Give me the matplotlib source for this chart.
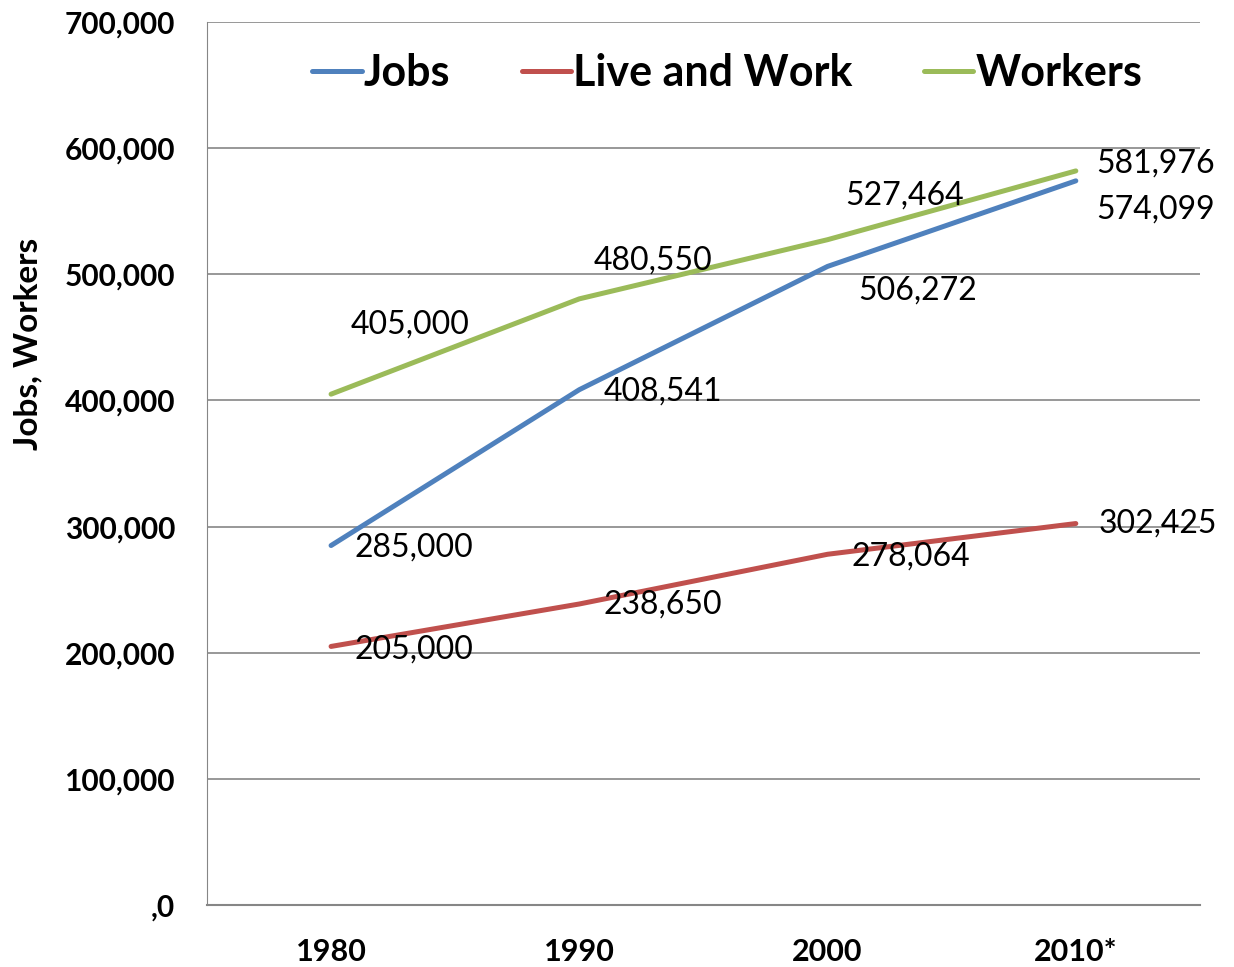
import matplotlib
matplotlib.use("Agg")
import matplotlib.pyplot as plt

plt.rcParams['font.family'] = ['Lato', 'DejaVu Sans']

years = ["1980", "1990", "2000", "2010*"]
jobs = [285000, 408541, 506272, 574099]
live_and_work = [205000, 238650, 278064, 302425]
workers = [405000, 480550, 527464, 581976]

y_ticks = [0, 100000, 200000, 300000, 400000, 500000, 600000, 700000]
y_tick_labels = [",0", "100,000", "200,000", "300,000", "400,000",
                 "500,000", "600,000", "700,000"]

# label offsets in pixels (dx, dy) relative to each point
jobs_off = [(23, -2), (24, -2), (31, -24), (20, -29)]
live_off = [(23, -3), (24, -1), (24, -2), (23, 0)]
workers_off = [(20, 70), (14, 38), (18, 44), (20, 7)]

fig = plt.figure(figsize=(12.34, 9.67), dpi=100)
ax = fig.add_axes([0.1677, 0.0641, 0.8047, 0.9131])

x = list(range(len(years)))
series = [
    ("Jobs", jobs, "#4F81BD", jobs_off),
    ("Live and Work", live_and_work, "#C0504D", live_off),
    ("Workers", workers, "#9BBB59", workers_off),
]
for name, vals, col, offs in series:
    ax.plot(x, vals, color=col, lw=3.6, label=name, solid_capstyle='round')
    for xi, v, (dx, dy) in zip(x, vals, offs):
        ax.annotate(f"{v:,}", (xi, v), xytext=(dx, dy), textcoords='offset pixels',
                    ha='left', va='center', fontsize=23, color='black')

ax.set_xlim(-0.5, len(years) - 0.5)
ax.set_ylim(0, 700000)
ax.set_xticks(x)
ax.set_xticklabels(years, fontsize=22, fontweight='bold')
ax.set_yticks(y_ticks)
ax.set_yticklabels(y_tick_labels, fontsize=21.5, fontweight='bold')
ax.tick_params(axis='both', length=0)
ax.tick_params(axis='x', pad=24)
ax.tick_params(axis='y', pad=23)
ax.yaxis.grid(True, color='#868686', lw=1.2)
ax.set_axisbelow(True)
for s in ['top', 'right']:
    ax.spines[s].set_visible(False)
ax.spines['left'].set_color('#868686')
ax.spines['bottom'].set_color('#868686')
ax.spines['bottom'].set_linewidth(1.5)
ax.set_ylabel("Jobs, Workers", fontsize=24, fontweight='bold')
ax.yaxis.set_label_coords(-0.166, 0.636)

ax.legend(loc='center', bbox_to_anchor=(0.524, 0.942), ncol=3, frameon=False,
          prop={'size': 31, 'weight': 'bold'}, handlelength=1.15,
          handletextpad=0.05, columnspacing=1.65)

fig.savefig("out.png", dpi=100)
